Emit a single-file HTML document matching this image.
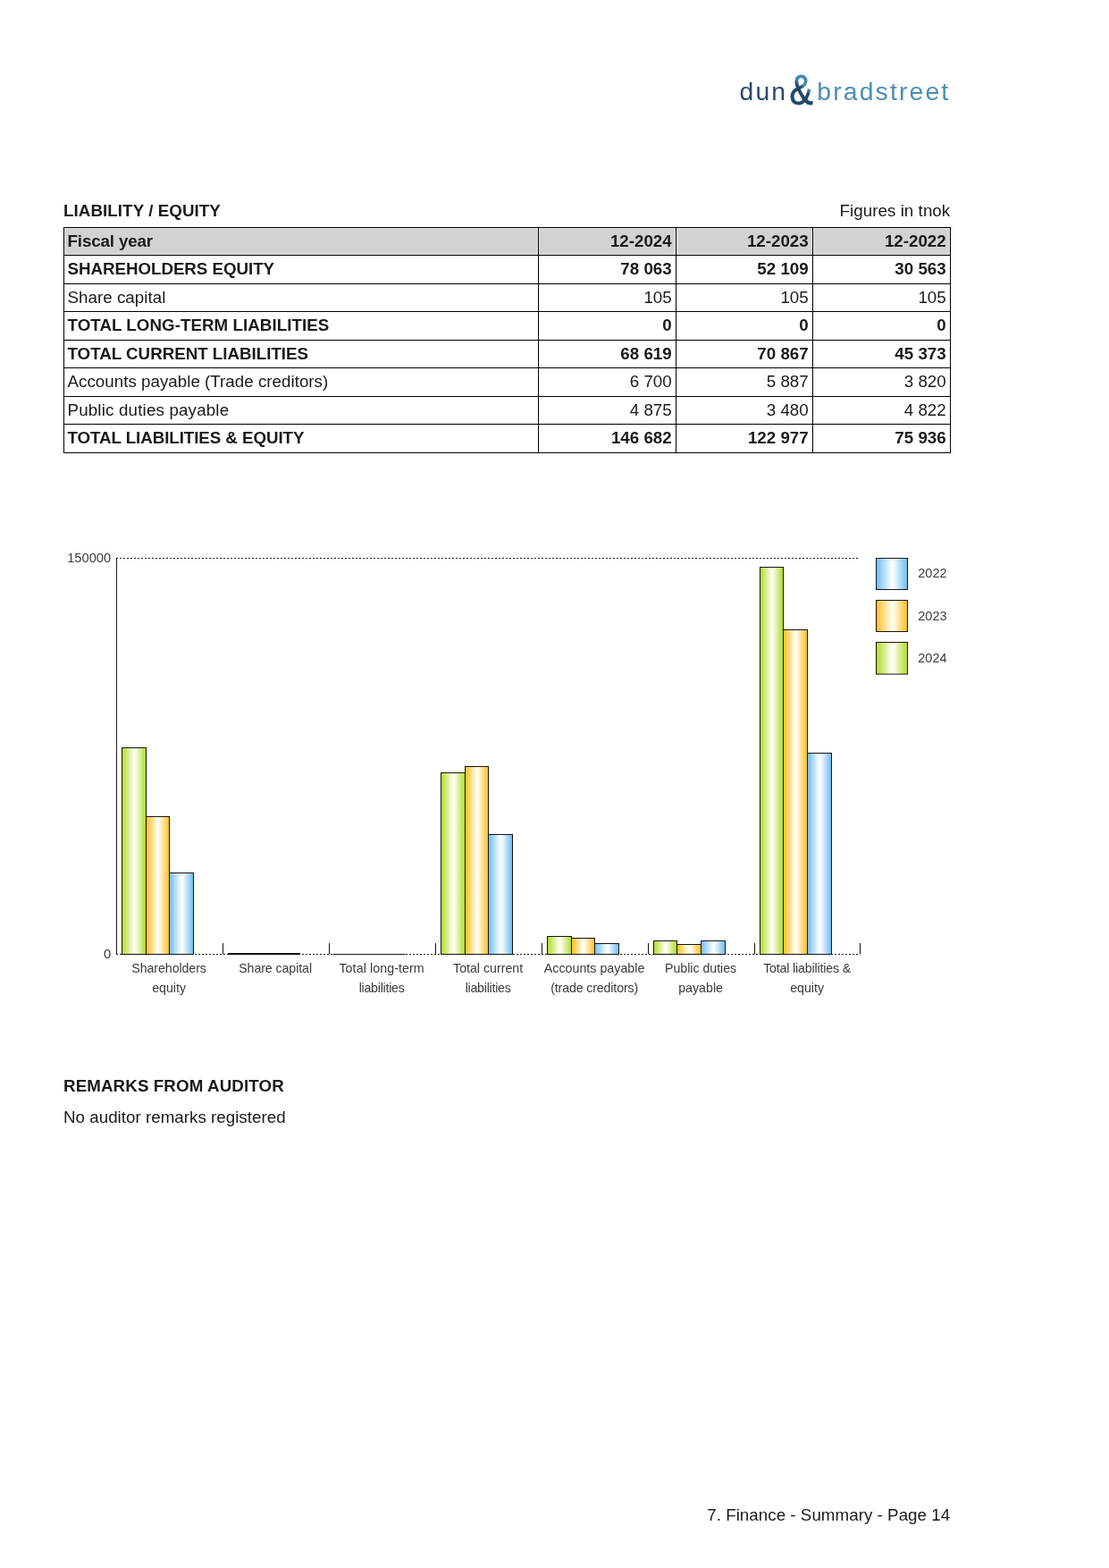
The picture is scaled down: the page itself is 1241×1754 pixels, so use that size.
<!DOCTYPE html>
<html lang="en">
<head>
<meta charset="utf-8">
<title>7. Finance - Summary - Page 14</title>
<style>
html,body{margin:0;padding:0;background:#fff;}
body{width:1241px;height:1754px;position:relative;overflow:hidden;font-family:"Liberation Sans",Arial,Helvetica,sans-serif;color:#1a1a1a;}
.t{position:absolute;display:block;margin:0;padding:0;border:0;white-space:nowrap;font-size:18.75px;line-height:24px;height:24px;font-weight:400;text-align:left;}
.t.b{font-weight:700;}
.t.r{text-align:right;}
table,tbody,tr{display:block;margin:0;padding:0;border:0;}
.hl{position:absolute;height:1px;background:#000;}
.vl{position:absolute;width:1px;background:#000;}
.hd{position:absolute;background:#d2d2d2;box-sizing:border-box;border:1px solid #e0e0e0;}
svg{position:absolute;left:0;top:0;overflow:visible;}
svg text{font-family:"Liberation Sans",Arial,Helvetica,sans-serif;}
</style>
</head>
<body>
<svg id="logo" width="1241" height="160" viewBox="0 0 1241 160">
<defs>
<linearGradient id="amp" gradientUnits="userSpaceOnUse" x1="4" y1="-4" x2="26" y2="-34">
<stop offset="0" stop-color="#21476b"/><stop offset="0.52" stop-color="#21476b"/><stop offset="0.62" stop-color="#4189b0"/><stop offset="1" stop-color="#4189b0"/>
</linearGradient>
</defs>
<text transform="translate(827.6 112) scale(1.03 1)" font-size="27.5" fill="#2b4a6d" textLength="50" lengthAdjust="spacing">dun</text>
<text transform="translate(883.4 117.2) scale(0.82 1)" font-size="48" fill="url(#amp)" stroke="url(#amp)" stroke-width="0.9">&amp;</text>
<text transform="translate(914.3 112) scale(1.03 1)" font-size="27.5" fill="#4a8eb5" textLength="142.6" lengthAdjust="spacing">bradstreet</text>
</svg>
<h2 class="t b" style="left:71px;top:224px;letter-spacing:0.07px">LIABILITY / EQUITY</h2>
<div class="t r" style="left:763px;width:300.3px;top:224px;letter-spacing:0.06px">Figures in tnok</div>
<div class="hd" style="left:72px;top:255px;width:530px;height:30px"></div>
<div class="hd" style="left:603px;top:255px;width:153px;height:30px"></div>
<div class="hd" style="left:757px;top:255px;width:152px;height:30px"></div>
<div class="hd" style="left:910px;top:255px;width:153px;height:30px"></div>
<div class="hl" style="left:71px;top:254px;width:993px"></div>
<div class="hl" style="left:71px;top:285px;width:993px"></div>
<div class="hl" style="left:71px;top:317px;width:993px"></div>
<div class="hl" style="left:71px;top:348px;width:993px"></div>
<div class="hl" style="left:71px;top:380px;width:993px"></div>
<div class="hl" style="left:71px;top:411px;width:993px"></div>
<div class="hl" style="left:71px;top:443px;width:993px"></div>
<div class="hl" style="left:71px;top:474px;width:993px"></div>
<div class="hl" style="left:71px;top:506px;width:993px"></div>
<div class="vl" style="left:71px;top:254px;height:253px"></div>
<div class="vl" style="left:602px;top:254px;height:253px"></div>
<div class="vl" style="left:756px;top:254px;height:253px"></div>
<div class="vl" style="left:909px;top:254px;height:253px"></div>
<div class="vl" style="left:1063px;top:254px;height:253px"></div>
<table>
<tbody>
<tr>
<th class="t b" style="left:75.5px;top:258px;letter-spacing:-0.13px">Fiscal year</th>
<th class="t b r" style="left:603px;width:148.7px;top:258px">12-2024</th>
<th class="t b r" style="left:757px;width:147.7px;top:258px">12-2023</th>
<th class="t b r" style="left:910px;width:148.7px;top:258px">12-2022</th>
</tr>
<tr>
<td class="t b" style="left:75.5px;top:289px;letter-spacing:-0.04px">SHAREHOLDERS EQUITY</td>
<td class="t b r" style="left:603px;width:148.7px;top:289px">78 063</td>
<td class="t b r" style="left:757px;width:147.7px;top:289px">52 109</td>
<td class="t b r" style="left:910px;width:148.7px;top:289px">30 563</td>
</tr>
<tr>
<td class="t" style="left:75.5px;top:321px;letter-spacing:0.03px">Share capital</td>
<td class="t r" style="left:603px;width:148.7px;top:321px">105</td>
<td class="t r" style="left:757px;width:147.7px;top:321px">105</td>
<td class="t r" style="left:910px;width:148.7px;top:321px">105</td>
</tr>
<tr>
<td class="t b" style="left:75.5px;top:352px;letter-spacing:0.04px">TOTAL LONG-TERM LIABILITIES</td>
<td class="t b r" style="left:603px;width:148.7px;top:352px">0</td>
<td class="t b r" style="left:757px;width:147.7px;top:352px">0</td>
<td class="t b r" style="left:910px;width:148.7px;top:352px">0</td>
</tr>
<tr>
<td class="t b" style="left:75.5px;top:384px;letter-spacing:-0.01px">TOTAL CURRENT LIABILITIES</td>
<td class="t b r" style="left:603px;width:148.7px;top:384px">68 619</td>
<td class="t b r" style="left:757px;width:147.7px;top:384px">70 867</td>
<td class="t b r" style="left:910px;width:148.7px;top:384px">45 373</td>
</tr>
<tr>
<td class="t" style="left:75.5px;top:415px;letter-spacing:0.02px">Accounts payable (Trade creditors)</td>
<td class="t r" style="left:603px;width:148.7px;top:415px">6 700</td>
<td class="t r" style="left:757px;width:147.7px;top:415px">5 887</td>
<td class="t r" style="left:910px;width:148.7px;top:415px">3 820</td>
</tr>
<tr>
<td class="t" style="left:75.5px;top:447px;letter-spacing:0.17px">Public duties payable</td>
<td class="t r" style="left:603px;width:148.7px;top:447px">4 875</td>
<td class="t r" style="left:757px;width:147.7px;top:447px">3 480</td>
<td class="t r" style="left:910px;width:148.7px;top:447px">4 822</td>
</tr>
<tr>
<td class="t b" style="left:75.5px;top:478px;letter-spacing:-0.07px">TOTAL LIABILITIES &amp; EQUITY</td>
<td class="t b r" style="left:603px;width:148.7px;top:478px">146 682</td>
<td class="t b r" style="left:757px;width:147.7px;top:478px">122 977</td>
<td class="t b r" style="left:910px;width:148.7px;top:478px">75 936</td>
</tr>
</tbody>
</table>
<svg id="chart" width="1241" height="1754" viewBox="0 0 1241 1754">
<defs>
<linearGradient id="gg" x1="0" y1="0" x2="1" y2="0"><stop offset="0" stop-color="#b5dd36"/><stop offset="0.04" stop-color="#b5dd36"/><stop offset="0.5" stop-color="#fdfff2"/><stop offset="0.54" stop-color="#fdfff2"/><stop offset="0.96" stop-color="#b5dd36"/><stop offset="1" stop-color="#b5dd36"/></linearGradient>
<linearGradient id="go" x1="0" y1="0" x2="1" y2="0"><stop offset="0" stop-color="#fdc232"/><stop offset="0.04" stop-color="#fdc232"/><stop offset="0.5" stop-color="#fffdf0"/><stop offset="0.54" stop-color="#fffdf0"/><stop offset="0.96" stop-color="#fdc232"/><stop offset="1" stop-color="#fdc232"/></linearGradient>
<linearGradient id="gb" x1="0" y1="0" x2="1" y2="0"><stop offset="0" stop-color="#77c1f1"/><stop offset="0.04" stop-color="#77c1f1"/><stop offset="0.5" stop-color="#fbfeff"/><stop offset="0.54" stop-color="#fbfeff"/><stop offset="0.96" stop-color="#77c1f1"/><stop offset="1" stop-color="#77c1f1"/></linearGradient>
</defs>
<line x1="130" y1="624.5" x2="961.2" y2="624.5" stroke="#1a1a1a" stroke-width="1" stroke-dasharray="2 2"/>
<line x1="130" y1="1067.5" x2="962" y2="1067.5" stroke="#1a1a1a" stroke-width="1" stroke-dasharray="2 2"/>
<line x1="130.5" y1="624.0" x2="130.5" y2="1068" stroke="#1a1a1a" stroke-width="1"/>
<line x1="249.5" y1="1055" x2="249.5" y2="1067.3" stroke="#111" stroke-width="1"/>
<line x1="368.5" y1="1055" x2="368.5" y2="1067.3" stroke="#111" stroke-width="1"/>
<line x1="487.5" y1="1055" x2="487.5" y2="1067.3" stroke="#111" stroke-width="1"/>
<line x1="606.5" y1="1055" x2="606.5" y2="1067.3" stroke="#111" stroke-width="1"/>
<line x1="725.5" y1="1055" x2="725.5" y2="1067.3" stroke="#111" stroke-width="1"/>
<line x1="844.5" y1="1055" x2="844.5" y2="1067.3" stroke="#111" stroke-width="1"/>
<line x1="962.5" y1="1055" x2="962.5" y2="1067.3" stroke="#111" stroke-width="1"/>
<rect x="136.5" y="836.5" width="27" height="231" fill="url(#gg)" stroke="#151515" stroke-width="1"/>
<rect x="163.5" y="913.5" width="26" height="154" fill="url(#go)" stroke="#151515" stroke-width="1"/>
<rect x="189.5" y="976.5" width="27" height="91" fill="url(#gb)" stroke="#151515" stroke-width="1"/>
<rect x="255" y="1066" width="81" height="2" fill="#0a0a0a"/>
<rect x="372.5" y="1067" width="81" height="1" fill="#1a1a1a"/>
<rect x="493.5" y="864.5" width="27" height="203" fill="url(#gg)" stroke="#151515" stroke-width="1"/>
<rect x="520.5" y="857.5" width="26" height="210" fill="url(#go)" stroke="#151515" stroke-width="1"/>
<rect x="546.5" y="933.5" width="27" height="134" fill="url(#gb)" stroke="#151515" stroke-width="1"/>
<rect x="612.5" y="1047.5" width="27" height="20" fill="url(#gg)" stroke="#151515" stroke-width="1"/>
<rect x="639.5" y="1049.5" width="26" height="18" fill="url(#go)" stroke="#151515" stroke-width="1"/>
<rect x="665.5" y="1055.5" width="27" height="12" fill="url(#gb)" stroke="#151515" stroke-width="1"/>
<rect x="731.5" y="1052.5" width="26" height="15" fill="url(#gg)" stroke="#151515" stroke-width="1"/>
<rect x="757.5" y="1056.5" width="27" height="11" fill="url(#go)" stroke="#151515" stroke-width="1"/>
<rect x="784.5" y="1052.5" width="27" height="15" fill="url(#gb)" stroke="#151515" stroke-width="1"/>
<rect x="850.5" y="634.5" width="26" height="433" fill="url(#gg)" stroke="#151515" stroke-width="1"/>
<rect x="876.5" y="704.5" width="27" height="363" fill="url(#go)" stroke="#151515" stroke-width="1"/>
<rect x="903.5" y="842.5" width="27" height="225" fill="url(#gb)" stroke="#151515" stroke-width="1"/>
<text x="124.2" y="629" font-size="14.7" fill="#3a3a3a" text-anchor="end">150000</text>
<text x="124.2" y="1072" font-size="14.7" fill="#3a3a3a" text-anchor="end">0</text>
<text x="189.10" y="1088" font-size="14.2" fill="#3a3a3a" letter-spacing="-0.07" text-anchor="middle">Shareholders</text>
<text x="189.10" y="1110" font-size="14.2" fill="#3a3a3a" letter-spacing="0" text-anchor="middle">equity</text>
<text x="308.10" y="1088" font-size="14.2" fill="#3a3a3a" letter-spacing="-0.08" text-anchor="middle">Share capital</text>
<text x="427.10" y="1088" font-size="14.2" fill="#3a3a3a" letter-spacing="0.1" text-anchor="middle">Total long-term</text>
<text x="427.10" y="1110" font-size="14.2" fill="#3a3a3a" letter-spacing="-0.25" text-anchor="middle">liabilities</text>
<text x="546.10" y="1088" font-size="14.2" fill="#3a3a3a" letter-spacing="0.0" text-anchor="middle">Total current</text>
<text x="546.10" y="1110" font-size="14.2" fill="#3a3a3a" letter-spacing="-0.25" text-anchor="middle">liabilities</text>
<text x="665.10" y="1088" font-size="14.2" fill="#3a3a3a" letter-spacing="0.04" text-anchor="middle">Accounts payable</text>
<text x="665.10" y="1110" font-size="14.2" fill="#3a3a3a" letter-spacing="-0.13" text-anchor="middle">(trade creditors)</text>
<text x="784.10" y="1088" font-size="14.2" fill="#3a3a3a" letter-spacing="-0.03" text-anchor="middle">Public duties</text>
<text x="784.10" y="1110" font-size="14.2" fill="#3a3a3a" letter-spacing="0" text-anchor="middle">payable</text>
<text x="903.10" y="1088" font-size="14.2" fill="#3a3a3a" letter-spacing="-0.16" text-anchor="middle">Total liabilities &amp;</text>
<text x="903.10" y="1110" font-size="14.2" fill="#3a3a3a" letter-spacing="0" text-anchor="middle">equity</text>
<rect x="980.5" y="624.5" width="35" height="35" fill="url(#gb)" stroke="#151515" stroke-width="1"/>
<text x="1027.3" y="646" font-size="14.5" fill="#3a3a3a">2022</text>
<rect x="980.5" y="671.5" width="35" height="35" fill="url(#go)" stroke="#151515" stroke-width="1"/>
<text x="1027.3" y="694" font-size="14.5" fill="#3a3a3a">2023</text>
<rect x="980.5" y="718.5" width="35" height="35.6" fill="url(#gg)" stroke="#151515" stroke-width="1"/>
<text x="1027.3" y="741" font-size="14.5" fill="#3a3a3a">2024</text>
</svg>
<h2 class="t b" style="left:71px;top:1203px;letter-spacing:0.1px">REMARKS FROM AUDITOR</h2>
<p class="t" style="left:71px;top:1238px;letter-spacing:0.02px">No auditor remarks registered</p>
<div class="t r" style="left:663px;width:400.2px;top:1683px;letter-spacing:0.035px">7. Finance - Summary - Page 14</div>
</body>
</html>
